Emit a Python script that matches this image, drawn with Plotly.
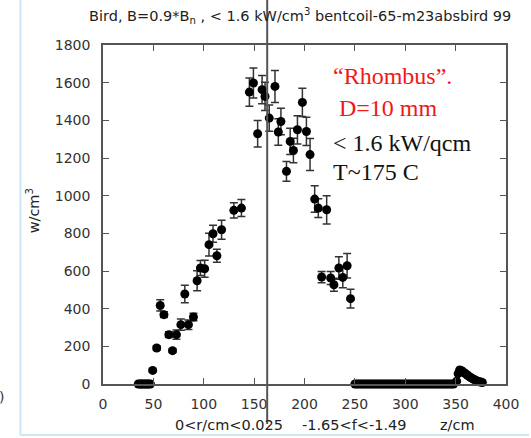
import plotly.graph_objects as go

# z position along the coil (cm), power density (W/cm^3) and its error
z_cm = [35, 36.5, 38, 39.5, 41, 42.5, 44, 45.5, 47,
        49.3, 53.3, 56.8, 60.5, 65.4, 69, 72.9, 77.3, 81.2, 84.8, 89.8,
        93.4, 96.7, 100.9, 105.2, 109.2, 113, 117.7, 129.9, 137.4,
        145.3, 149.3, 153.5, 157.9, 160.8, 165, 170.7, 174, 176.6,
        182.1, 185.8, 189, 193, 197.9, 201.9, 205.5, 210.1, 213.7, 222,
        217, 226, 229.2, 234.1, 238, 242.3, 245.7,
        250, 252, 254, 256, 258, 260, 262, 264, 266, 268,
        270, 272, 274, 276, 278, 280, 282, 284, 286, 288,
        290, 292, 294, 296, 298, 300, 302, 304, 306, 308,
        310, 312, 314, 316, 318, 320, 322, 324, 326, 328,
        330, 332, 334, 336, 338, 340, 342, 344, 346, 348,
        351, 352.5, 354, 355.5, 357, 358.5, 360, 361.5, 363, 364.5,
        366, 367.5, 369, 370.5, 372, 373.5, 375, 376.5]
power = [0, 0, 0, 0, 0, 0, 0, 0, 0,
         72, 191, 417, 368, 262, 177, 262, 315, 478, 315, 356,
         548, 616, 612, 740, 798, 681, 819, 922, 934,
         1550, 1598, 1329, 1563, 1527, 1412, 1580, 1338, 1394,
         1129, 1288, 1240, 1350, 1495, 1341, 1218, 982, 934, 925,
         568, 563, 527, 616, 566, 628, 453,
         0, 0, 0, 0, 0, 0, 0, 0, 0, 0,
         0, 0, 0, 0, 0, 0, 0, 0, 0, 0,
         0, 0, 0, 0, 0, 0, 0, 0, 0, 0,
         0, 0, 0, 0, 0, 0, 0, 0, 0, 0,
         0, 0, 0, 0, 0, 0, 0, 0, 0, 0,
         15, 55, 75, 72, 66, 60, 54, 48, 42, 36,
         31, 26, 22, 18, 15, 12, 10, 8]
power_err = [0, 0, 0, 0, 0, 0, 0, 0, 0,
             8, 12, 30, 15, 15, 10, 25, 30, 47, 25, 20,
             53, 40, 45, 60, 45, 35, 50, 40, 45,
             75, 80, 70, 75, 75, 70, 85, 70, 70,
             53, 70, 65, 75, 75, 75, 85, 70, 50, 75,
             30, 35, 35, 60, 55, 65, 50,
             0, 0, 0, 0, 0, 0, 0, 0, 0, 0,
             0, 0, 0, 0, 0, 0, 0, 0, 0, 0,
             0, 0, 0, 0, 0, 0, 0, 0, 0, 0,
             0, 0, 0, 0, 0, 0, 0, 0, 0, 0,
             0, 0, 0, 0, 0, 0, 0, 0, 0, 0,
             0, 0, 0, 0, 0, 0, 0, 0, 0, 0,
             0, 0, 0, 0, 0, 0, 0, 0]

x_ticks = [0, 50, 100, 150, 200, 250, 300, 350, 400]
y_ticks = [0, 200, 400, 600, 800, 1000, 1200, 1400, 1600, 1800]

W, H = 531, 438
L, R, T, B = 103, 23, 45, 54
PW, PH = W - L - R, H - T - B


def px(xp):
    return (xp - L) / PW


def py(yp):
    return (H - B - yp) / PH


fig = go.Figure()
fig.add_trace(go.Scatter(
    x=z_cm, y=power, mode="markers",
    marker=dict(color="black", size=9),
    error_y=dict(type="data", array=power_err, color="#333",
                 thickness=1.5, width=4),
    showlegend=False, cliponaxis=False,
))

axis_common = dict(
    showline=True, linecolor="#555", linewidth=1.5, mirror="ticks",
    ticks="inside", ticklen=6, tickcolor="#555", tickwidth=1.2,
    showgrid=False, zeroline=False,
    tickfont=dict(family="DejaVu Sans", size=14, color="#333"),
)
fig.update_xaxes(range=[0, 400], tickvals=x_ticks, ticklabelstandoff=6,
                 **axis_common)
fig.update_yaxes(range=[0, 1800], tickvals=y_ticks, ticklabelstandoff=8,
                 **axis_common)

sans = dict(family="DejaVu Sans", size=14.5, color="#222")
serif_red = dict(family="Liberation Serif", size=24, color="#f01818")
serif_blk = dict(family="Liberation Serif", size=24, color="#111")

annotations = [
    dict(x=px(301), y=py(16),
         text="Bird, B=0.9*B<sub>n</sub> , &lt; 1.6 kW/cm<sup>3</sup> bentcoil-65-m23absbird 99",
         font=sans),
    dict(x=px(33), y=py(211), text="w/cm<sup>3</sup>", textangle=-90, font=sans),
    dict(x=px(230), y=py(425), text="0&lt;r/cm&lt;0.025", font=sans),
    dict(x=px(355), y=py(425), text="-1.65&lt;f&lt;-1.49", font=sans),
    dict(x=px(459), y=py(425), text="z/cm", font=sans),
    dict(x=px(1), y=py(397), text=")", font=dict(family="DejaVu Sans", size=14, color="#333")),
    dict(x=px(332), y=py(76), xanchor="left", text="“Rhombus”.", font=serif_red),
    dict(x=px(332), y=py(108), xanchor="left", text=" D=10 mm", font=serif_red),
    dict(x=px(332), y=py(143), xanchor="left", text="&lt; 1.6 kW/qcm", font=serif_blk),
    dict(x=px(332), y=py(172), xanchor="left", text="T~175 C", font=serif_blk),
]
for a in annotations:
    a.setdefault("xanchor", "center")
    a.update(xref="paper", yref="paper", yanchor="middle", showarrow=False)

shapes = [
    # marker line drawn across the plot
    dict(type="line", xref="paper", yref="paper",
         x0=px(268), x1=px(268), y0=py(0), y1=py(424),
         line=dict(color="#555", width=2)),
    # slide frame edges
    dict(type="line", xref="paper", yref="paper",
         x0=px(20), x1=px(20), y0=py(0), y1=py(435),
         line=dict(color="#cde8f4", width=2)),
    dict(type="line", xref="paper", yref="paper",
         x0=px(20), x1=px(531), y0=py(435), y1=py(435),
         line=dict(color="#cde8f4", width=2)),
]

fig.update_layout(
    width=W, height=H,
    margin=dict(l=L, r=R, t=T, b=B),
    paper_bgcolor="white", plot_bgcolor="white",
    annotations=annotations, shapes=shapes,
)

fig.write_html("out.html")
